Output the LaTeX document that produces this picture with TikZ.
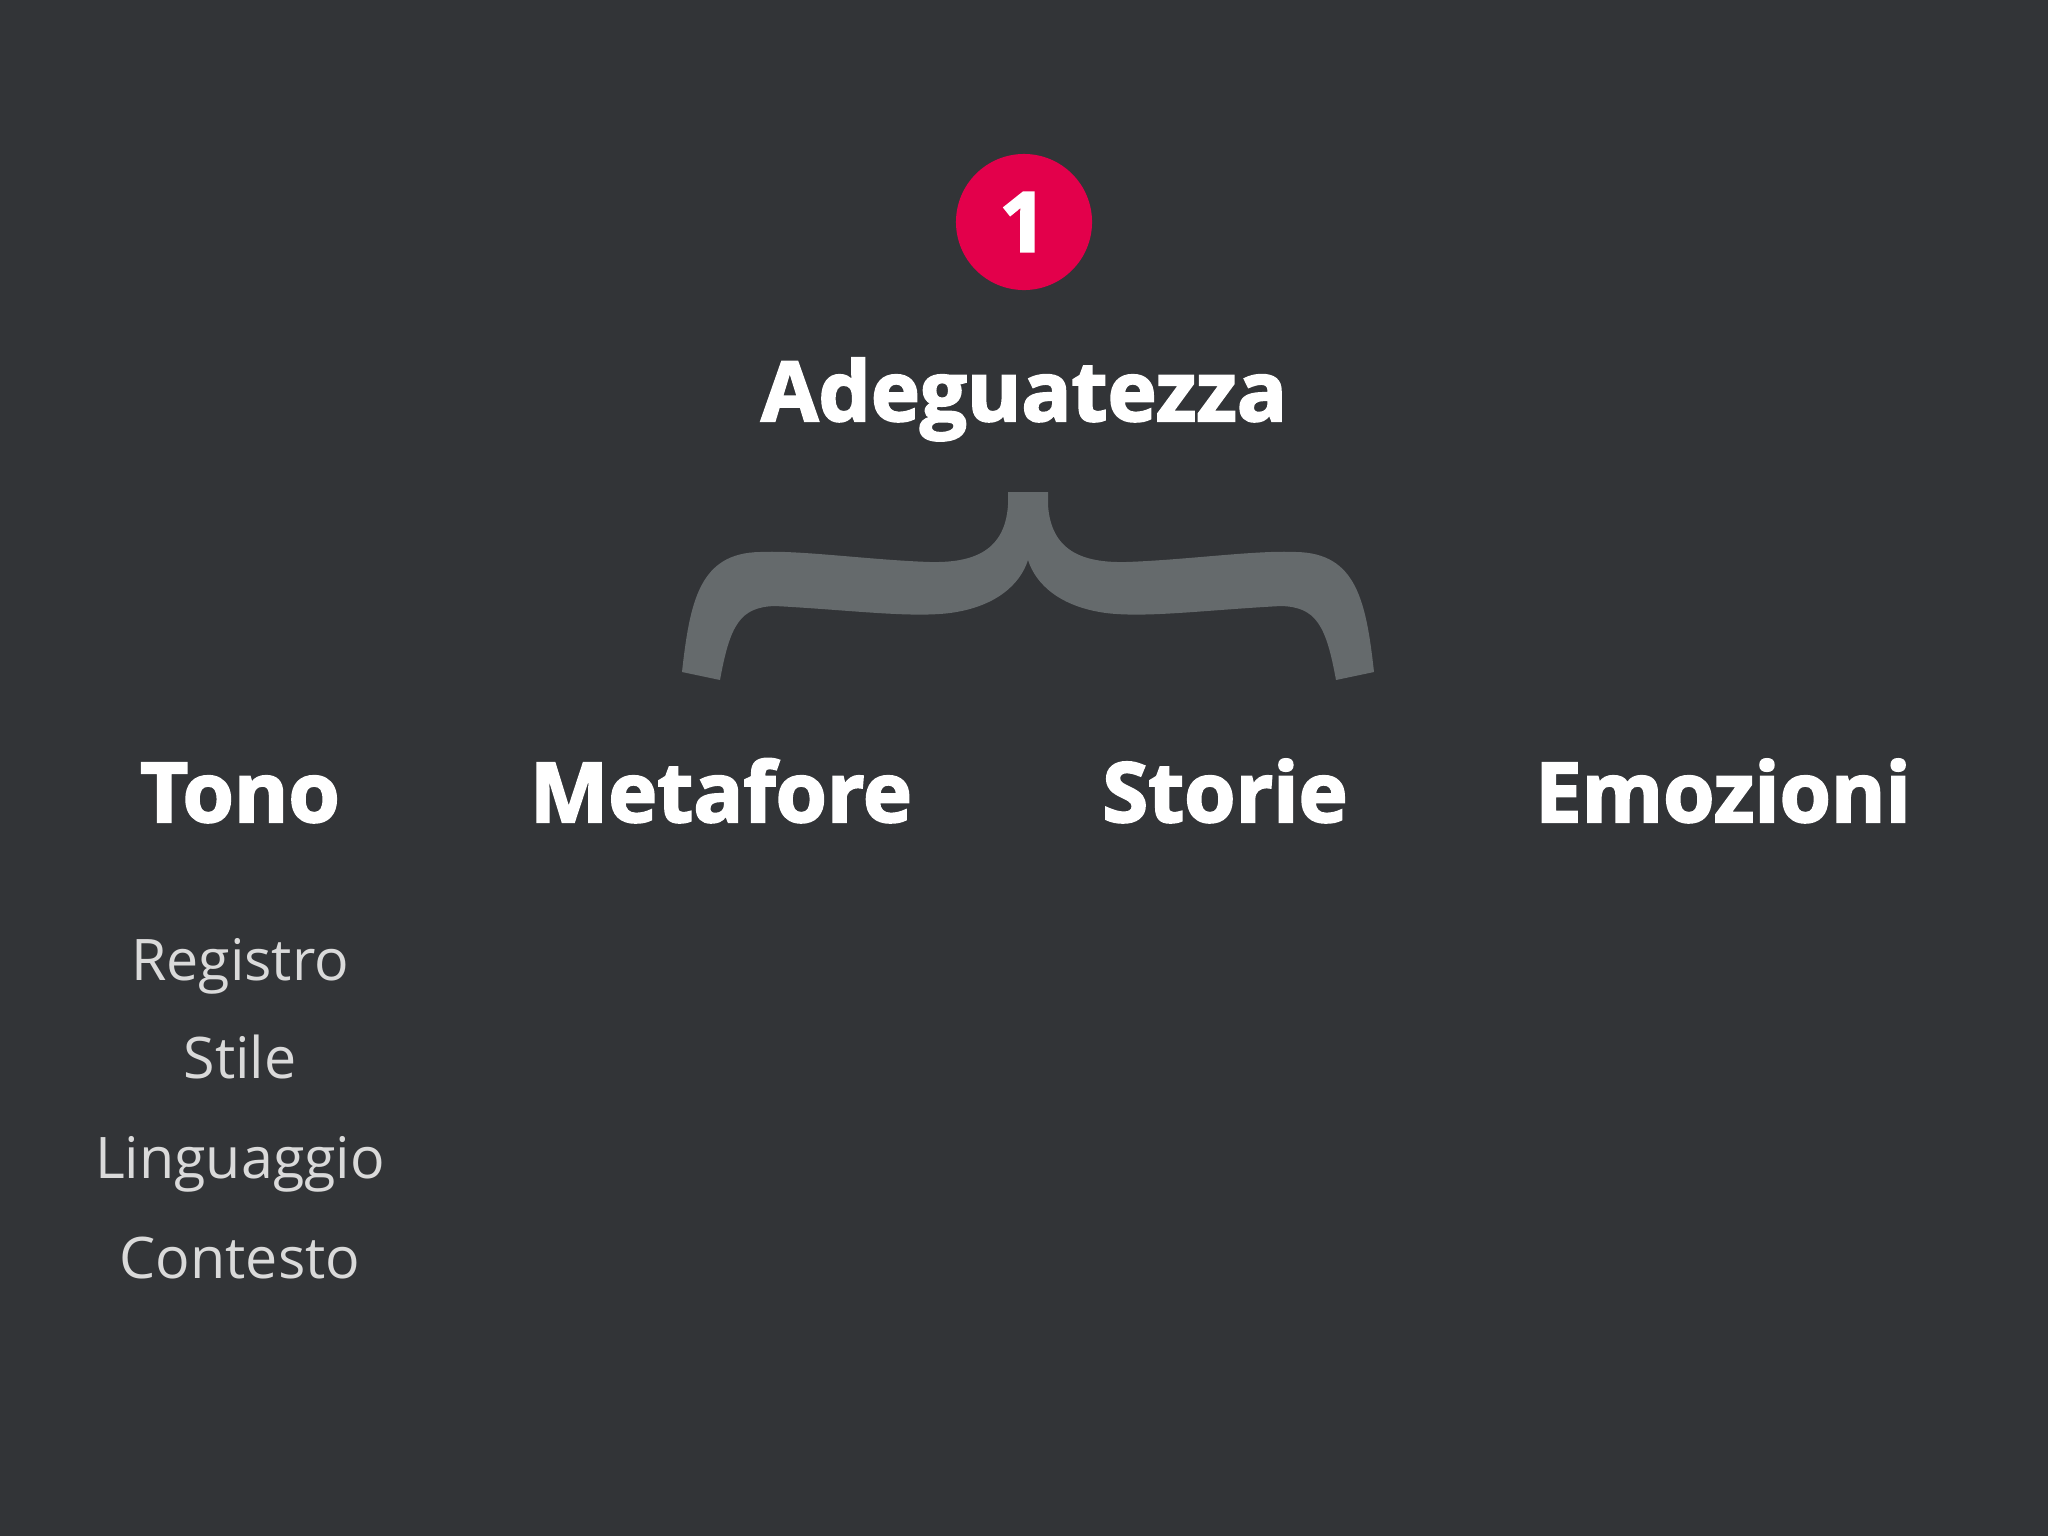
\documentclass[tikz,border=0pt]{standalone}
\usepackage{fontspec}
\newfontfamily\headfont{Open Sans}[UprightFeatures={FakeBold=0},BoldFeatures={FakeBold=2.4}]
\newfontfamily\thinfont{Open Sans}
\definecolor{bgdark}{HTML}{323437}
\definecolor{bracegray}{HTML}{656A6C}
\definecolor{badgered}{HTML}{E3004B}
\definecolor{softwhite}{HTML}{DADADA}
\begin{document}
\begin{tikzpicture}[x=0.01cm,y=-0.01cm,
	head/.style={text=white,font=\headfont\bfseries\fontsize{23.6}{28}\selectfont,anchor=base,inner sep=0pt},
	item/.style={text=softwhite,font=\thinfont\fontsize{16.3}{20}\selectfont,anchor=base,inner sep=0pt}]
	\fill[bgdark] (0,0) rectangle (2048,1536);
	\useasboundingbox (0,0) rectangle (2048,1536);
	% badge and title
	\fill[badgered] (1024,222) circle (0.68cm);
	\node[head,anchor=center] (num) at (1023,222) {1};
	\node[head] (title) at (1024,421) {Adeguatezza};
	% brace
	\fill[bracegray] (1008,492) -- (1008,505)
		.. controls (1005,550) and (975,563) .. (930,562)
		.. controls (870,560) and (800,550) .. (760,552)
		.. controls (700,553) and (690,600) .. (682,672)
		-- (720,680)
		.. controls (730,625) and (740,607) .. (775,606)
		.. controls (850,610) and (910,618) .. (950,613)
		.. controls (995,607) and (1020,585) .. (1028,560)
		.. controls (1036,585) and (1061,607) .. (1106,613)
		.. controls (1146,618) and (1206,610) .. (1281,606)
		.. controls (1316,607) and (1326,625) .. (1336,680)
		-- (1374,672)
		.. controls (1366,600) and (1356,553) .. (1296,552)
		.. controls (1256,550) and (1186,560) .. (1126,562)
		.. controls (1081,563) and (1051,550) .. (1048,505)
		-- (1048,492) -- cycle;
	% columns
	\node[head] (tono) at (240,822) {Tono};
	\node[head] (metafore) at (721,822) {Metafore};
	\node[head] (storie) at (1225,822) {Storie};
	\node[head] (emozioni) at (1723,822) {Emozioni};
	% items under Tono
	\node[item] (registro) at (240,980) {Registro};
	\node[item] (stile) at (240,1078) {Stile};
	\node[item] (linguaggio) at (240,1178) {Linguaggio};
	\node[item] (contesto) at (240,1278) {Contesto};
\end{tikzpicture}
\end{document}
